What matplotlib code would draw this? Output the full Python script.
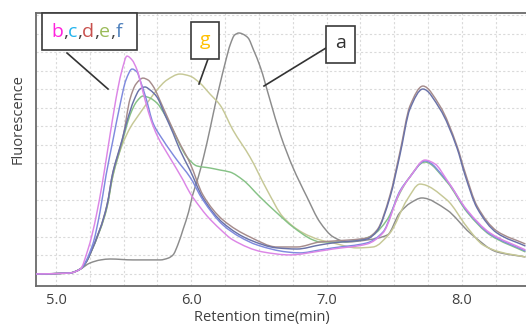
import matplotlib
matplotlib.use("Agg")
import numpy as np
import matplotlib.pyplot as plt
from matplotlib.ticker import MultipleLocator, FixedLocator
from matplotlib.patches import Rectangle, PathPatch
from matplotlib.lines import Line2D
from matplotlib.path import Path

plt.rcParams['font.family'] = ['Open Sans', 'DejaVu Sans']

# ---- data: retention time (min) and fluorescence (arbitrary units) ----
t_a = [4.85, 5.10, 5.18, 5.25, 5.33, 5.40, 5.57, 5.77, 5.83, 5.865, 5.90, 5.94, 5.98, 6.01,
       6.05, 6.09, 6.14, 6.175, 6.21, 6.25, 6.29, 6.32, 6.353, 6.38, 6.42, 6.46, 6.51, 6.58, 6.66,
       6.75, 6.855, 6.95, 7.05, 7.15, 7.30, 7.45, 7.54, 7.62, 7.705, 7.89, 8.06, 8.26, 8.47]
f_a = [0, 0.05, 0.27, 0.59, 0.76, 0.81, 0.76, 0.76, 0.86, 1.03, 1.57, 2.43, 3.35, 4.27,
       5.2, 6.3, 7.9, 9.1, 10.2, 11.4, 12.45, 12.92, 13.03, 12.97, 12.76, 12.11, 11.19, 9.45, 7.5,
       5.78, 4.16, 2.81, 2.0, 1.73, 1.84, 2.11, 3.30, 3.84, 4.11, 3.46, 2.22, 1.19, 0.92]

t_b = [4.85, 5.10, 5.18, 5.237, 5.266, 5.303, 5.34, 5.37, 5.399, 5.429, 5.458, 5.488, 5.525,
       5.562, 5.599, 5.658, 5.702, 5.746, 5.843, 5.939, 5.99, 6.064, 6.116, 6.212, 6.308, 6.53,
       6.729, 6.951, 7.047, 7.299, 7.417, 7.542, 7.616, 7.727, 7.801, 7.89, 8.038, 8.208, 8.47]
f_b = [0, 0.05, 0.27, 1.35, 2.11, 3.35, 4.81, 6.16, 7.51, 8.86, 10.05, 11.03, 11.78,
       11.57, 11.03, 9.41, 8.32, 7.51, 6.27, 5.08, 4.38, 3.62, 3.14, 2.43, 1.84, 1.19,
       1.03, 1.24, 1.35, 1.62, 2.22, 4.43, 5.24, 6.16, 5.95, 5.08, 3.46, 2.22, 1.30]

t_c = [4.85, 5.10, 5.18, 5.27, 5.325, 5.37, 5.421, 5.473, 5.517, 5.562, 5.599, 5.621, 5.665,
       5.717, 5.791, 5.894, 5.99, 6.086, 6.234, 6.36, 6.486, 6.707, 6.803, 6.951, 7.047, 7.299,
       7.417, 7.542, 7.616, 7.727, 7.89, 8.038, 8.208, 8.47]
f_c = [0, 0.05, 0.27, 1.57, 3.35, 5.35, 7.24, 9.14, 10.49, 11.08, 10.92, 10.49, 9.51,
       8.16, 7.24, 6.16, 5.24, 4.0, 2.65, 2.0, 1.57, 1.19, 1.14, 1.30, 1.41, 1.68,
       2.27, 4.49, 5.24, 6.11, 5.03, 3.41, 2.16, 1.24]

t_d = [4.85, 5.10, 5.18, 5.325, 5.377, 5.421, 5.451, 5.495, 5.547, 5.591, 5.643, 5.68, 5.717,
       5.783, 5.843, 5.902, 5.99, 6.086, 6.234, 6.434, 6.633, 6.781, 6.951, 7.047, 7.299, 7.373,
       7.469, 7.542, 7.616, 7.712, 7.838, 7.964, 8.023, 8.112, 8.259, 8.47]
f_d = [0, 0.05, 0.27, 2.43, 3.73, 5.51, 6.27, 7.41, 9.46, 10.27, 10.59, 10.49, 10.16,
       9.14, 8.16, 7.24, 6.0, 4.27, 2.92, 2.0, 1.46, 1.46, 1.73, 1.78, 1.95, 2.38,
       4.27, 6.59, 9.08, 10.16, 9.08, 6.92, 5.51, 3.68, 2.32, 1.62]

t_e = [4.85, 5.10, 5.18, 5.325, 5.377, 5.421, 5.473, 5.51, 5.547, 5.599, 5.643, 5.695, 5.746,
       5.806, 5.865, 5.916, 5.968, 6.042, 6.138, 6.212, 6.286, 6.382, 6.508, 6.633, 6.752, 6.90,
       6.951, 7.099, 7.247, 7.343, 7.446, 7.542, 7.594, 7.727, 7.89, 8.038, 8.208, 8.47]
f_e = [0, 0.05, 0.27, 2.38, 3.62, 5.35, 6.70, 7.68, 8.59, 9.35, 9.62, 9.51, 9.24,
       8.59, 7.78, 6.97, 6.32, 5.84, 5.73, 5.62, 5.51, 5.08, 4.16, 3.30, 2.54, 1.84,
       1.73, 1.73, 1.84, 2.11, 2.92, 4.38, 5.03, 6.05, 4.97, 3.35, 2.11, 1.19]

t_f = [4.85, 5.10, 5.18, 5.325, 5.377, 5.421, 5.451, 5.488, 5.525, 5.577, 5.621, 5.658, 5.695,
       5.746, 5.806, 5.865, 5.916, 5.99, 6.086, 6.234, 6.434, 6.633, 6.781, 6.951, 7.047, 7.299,
       7.373, 7.469, 7.542, 7.616, 7.712, 7.838, 7.964, 8.023, 8.112, 8.259, 8.47]
f_f = [0, 0.05, 0.27, 2.43, 3.73, 5.51, 6.32, 7.24, 8.27, 9.41, 10.0, 10.11, 9.95,
       9.57, 8.59, 7.62, 6.70, 5.62, 4.11, 2.76, 1.84, 1.41, 1.35, 1.57, 1.68, 1.89,
       2.32, 4.16, 6.43, 8.92, 10.0, 8.92, 6.81, 5.35, 3.57, 2.22, 1.51]

t_g = [4.85, 5.10, 5.18, 5.325, 5.377, 5.414, 5.451, 5.495, 5.547, 5.621, 5.695, 5.746, 5.82,
       5.916, 5.99, 6.064, 6.138, 6.212, 6.308, 6.434, 6.56, 6.678, 6.826, 6.951, 7.047, 7.225,
       7.343, 7.469, 7.594, 7.69, 7.89, 8.038, 8.156, 8.281, 8.47]
f_g = [0, 0.05, 0.27, 2.38, 3.62, 5.08, 6.16, 7.08, 7.89, 8.70, 9.46, 9.95, 10.49,
       10.81, 10.70, 10.32, 9.73, 9.14, 7.78, 6.32, 4.54, 3.08, 2.22, 1.84, 1.68, 1.41,
       1.46, 2.22, 4.0, 4.86, 4.0, 2.54, 1.57, 1.19, 0.92]

x_ticks = [5.0, 6.0, 7.0, 8.0]
x_tick_labels = ["5.0", "6.0", "7.0", "8.0"]

series = [
    (t_a, f_a, '#8c8c8c'),
    (t_g, f_g, '#c6c896'),
    (t_e, f_e, '#86c286'),
    (t_d, f_d, '#a68c8c'),
    (t_f, f_f, '#6a72a8'),
    (t_c, f_c, '#7f8ade'),
    (t_b, f_b, '#dc86e6'),
]


def smooth_path(x, y):
    """Piecewise cubic Hermite (monotone slopes) through the read points, as Bezier path."""
    x = np.asarray(x, float)
    y = np.asarray(y, float)
    h = np.diff(x)
    d = np.diff(y) / h
    n = len(x)
    m = np.zeros(n)
    m[0], m[-1] = d[0], d[-1]
    for k in range(1, n - 1):
        if d[k - 1] * d[k] <= 0:
            m[k] = 0.0
        else:
            w1 = 2 * h[k] + h[k - 1]
            w2 = h[k] + 2 * h[k - 1]
            m[k] = (w1 + w2) / (w1 / d[k - 1] + w2 / d[k])
    verts = [(x[0], y[0])]
    codes = [Path.MOVETO]
    for k in range(n - 1):
        verts += [(x[k] + h[k] / 3, y[k] + m[k] * h[k] / 3),
                  (x[k + 1] - h[k] / 3, y[k + 1] - m[k + 1] * h[k] / 3),
                  (x[k + 1], y[k + 1])]
        codes += [Path.CURVE4] * 3
    return Path(verts, codes)


W, H = 526, 324
fig = plt.figure(figsize=(W / 100, H / 100), dpi=100)
ax = fig.add_axes([36 / W, (H - 286) / H, (W - 36) / W, (286 - 13) / H])

for t, f, col in series:
    ax.add_patch(PathPatch(smooth_path(t, f), facecolor='none', edgecolor=col, lw=1.05,
                           zorder=3))

ax.set_xlim(4.852, 8.474)
ax.set_ylim(-0.65, 14.11)

ax.xaxis.set_major_locator(FixedLocator(x_ticks))
ax.set_xticklabels(x_tick_labels)
ax.xaxis.set_minor_locator(MultipleLocator(0.25))
ax.yaxis.set_major_locator(MultipleLocator(1))
ax.set_yticklabels([])
ax.tick_params(axis='y', length=0)
ax.tick_params(axis='x', which='both', length=0, pad=5, labelsize=10.5, labelcolor='#404040')
ax.grid(True, which='both', axis='x', color='#dadada', lw=0.8, ls=(0, (2, 2)))
ax.grid(True, which='major', axis='y', color='#dadada', lw=0.8, ls=(0, (2, 2)))
ax.set_axisbelow(True)
for s in ['top', 'left', 'bottom']:
    ax.spines[s].set_color('#6a6a6a')
    ax.spines[s].set_linewidth(1.3)
ax.spines['right'].set_visible(False)


def fp(px, py):
    return (px / W, 1 - py / H)


tf = fig.transFigure
# boxes
for (x0, y0, x1, y1) in [(42, 13, 137, 50), (191, 22, 219, 59), (326, 26, 355, 63)]:
    ax.add_patch(Rectangle(fp(x0, y1), (x1 - x0) / W, (y1 - y0) / H, transform=tf,
                           facecolor='white', edgecolor='#3a3a3a', lw=1.2, zorder=20,
                           clip_on=False))
# leader lines
for (p0, p1) in [((67, 53), (108, 89)), ((208, 59), (199, 84)), ((326, 48), (264, 86))]:
    a0, a1 = fp(*p0), fp(*p1)
    ax.add_line(Line2D([a0[0], a1[0]], [a0[1], a1[1]], transform=tf, color='#333333',
                       lw=1.2, zorder=19, clip_on=False))

# multi-coloured label
chars = ["b", ",", "c", ",", "d", ",", "e", ",", "f"]
cols = ["#ff22dd", "#444444", "#22b4ee", "#444444", "#c8504d", "#444444",
        "#9bbb59", "#444444", "#4f81bd"]
prev = ax.text(*fp(51, 32), chars[0], transform=tf, color=cols[0], fontsize=14,
               ha='left', va='center', zorder=21, clip_on=False)
for ch, c in zip(chars[1:], cols[1:]):
    prev = ax.annotate(ch, xy=(1, 0), xycoords=prev, color=c, fontsize=14,
                       ha='left', va='bottom', zorder=21)

ax.text(*fp(205, 40), "g", transform=tf, color='#ffc000', fontsize=14, ha='center',
        va='center', zorder=21, clip_on=False)
ax.text(*fp(340.5, 43), "a", transform=tf, color='#303030', fontsize=14, ha='center',
        va='center', zorder=21, clip_on=False)

fig.text(*fp(18, 119), "Fluorescence", rotation=90, ha='center', va='center',
         fontsize=10.5, color='#404040')
fig.text(*fp(262, 317), "Retention time(min)", ha='center', va='center',
         fontsize=10.5, color='#404040')

fig.savefig("out.png", dpi=100)
